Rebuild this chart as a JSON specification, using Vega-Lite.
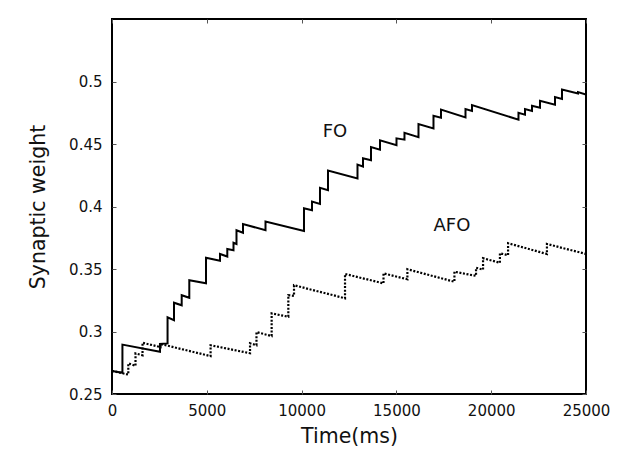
{
  "$schema": "https://vega.github.io/schema/vega-lite/v6.json",
  "width": 474,
  "height": 375,
  "autosize": "none",
  "padding": {"left": 112, "top": 19, "right": 37, "bottom": 74},
  "background": "white",
  "config": {
    "font": "DejaVu Sans",
    "view": {"stroke": "black", "strokeWidth": 2},
    "axis": {
      "grid": false,
      "domain": false,
      "tickSize": -4,
      "tickColor": "#555",
      "tickWidth": 1,
      "labelFlush": false,
      "labelFont": "DejaVu Sans",
      "labelFontSize": 15,
      "labelColor": "#111",
      "titleFont": "DejaVu Sans",
      "titleFontSize": 20.5,
      "titleFontWeight": "normal",
      "titleColor": "#111"
    }
  },
  "datasets": {
    "fo": [
      {"i": 0, "t": 0, "w": 0.2685},
      {"i": 1, "t": 550, "w": 0.267},
      {"i": 2, "t": 550, "w": 0.2895},
      {"i": 3, "t": 2530, "w": 0.2838},
      {"i": 4, "t": 2530, "w": 0.29},
      {"i": 5, "t": 2930, "w": 0.2905},
      {"i": 6, "t": 2930, "w": 0.3114},
      {"i": 7, "t": 3270, "w": 0.309},
      {"i": 8, "t": 3270, "w": 0.323},
      {"i": 9, "t": 3676, "w": 0.321},
      {"i": 10, "t": 3676, "w": 0.329},
      {"i": 11, "t": 4077, "w": 0.327},
      {"i": 12, "t": 4077, "w": 0.341},
      {"i": 13, "t": 4958, "w": 0.3386},
      {"i": 14, "t": 4958, "w": 0.359},
      {"i": 15, "t": 5696, "w": 0.3566},
      {"i": 16, "t": 5696, "w": 0.362},
      {"i": 17, "t": 6081, "w": 0.36},
      {"i": 18, "t": 6081, "w": 0.366},
      {"i": 19, "t": 6408, "w": 0.365},
      {"i": 20, "t": 6408, "w": 0.371},
      {"i": 21, "t": 6566, "w": 0.37},
      {"i": 22, "t": 6566, "w": 0.381},
      {"i": 23, "t": 6909, "w": 0.379},
      {"i": 24, "t": 6909, "w": 0.386},
      {"i": 25, "t": 8096, "w": 0.381},
      {"i": 26, "t": 8096, "w": 0.388},
      {"i": 27, "t": 10126, "w": 0.3804},
      {"i": 28, "t": 10126, "w": 0.3986},
      {"i": 29, "t": 10548, "w": 0.397},
      {"i": 30, "t": 10548, "w": 0.404},
      {"i": 31, "t": 10970, "w": 0.402},
      {"i": 32, "t": 10970, "w": 0.415},
      {"i": 33, "t": 11392, "w": 0.413},
      {"i": 34, "t": 11392, "w": 0.4287},
      {"i": 35, "t": 12948, "w": 0.4225},
      {"i": 36, "t": 12948, "w": 0.4335},
      {"i": 37, "t": 13238, "w": 0.432},
      {"i": 38, "t": 13238, "w": 0.4386},
      {"i": 39, "t": 13660, "w": 0.437},
      {"i": 40, "t": 13660, "w": 0.4475},
      {"i": 41, "t": 14134, "w": 0.4455},
      {"i": 42, "t": 14134, "w": 0.453},
      {"i": 43, "t": 15005, "w": 0.449},
      {"i": 44, "t": 15005, "w": 0.4545},
      {"i": 45, "t": 15426, "w": 0.4535},
      {"i": 46, "t": 15426, "w": 0.459},
      {"i": 47, "t": 16165, "w": 0.4555},
      {"i": 48, "t": 16165, "w": 0.466},
      {"i": 49, "t": 16956, "w": 0.4625},
      {"i": 50, "t": 16956, "w": 0.4725},
      {"i": 51, "t": 17351, "w": 0.471},
      {"i": 52, "t": 17351, "w": 0.4775},
      {"i": 53, "t": 18644, "w": 0.4713},
      {"i": 54, "t": 18644, "w": 0.478},
      {"i": 55, "t": 18986, "w": 0.4765},
      {"i": 56, "t": 18986, "w": 0.4812},
      {"i": 57, "t": 21439, "w": 0.4695},
      {"i": 58, "t": 21439, "w": 0.475},
      {"i": 59, "t": 21782, "w": 0.4735},
      {"i": 60, "t": 21782, "w": 0.478},
      {"i": 61, "t": 22151, "w": 0.4765},
      {"i": 62, "t": 22151, "w": 0.4805},
      {"i": 63, "t": 22573, "w": 0.479},
      {"i": 64, "t": 22573, "w": 0.4845},
      {"i": 65, "t": 23364, "w": 0.4815},
      {"i": 66, "t": 23364, "w": 0.4875},
      {"i": 67, "t": 23733, "w": 0.486},
      {"i": 68, "t": 23733, "w": 0.4935},
      {"i": 69, "t": 24577, "w": 0.4905},
      {"i": 70, "t": 24577, "w": 0.4915},
      {"i": 71, "t": 25000, "w": 0.4895}
    ],
    "afo": [
      {"i": 0, "t": 0, "w": 0.2685},
      {"i": 1, "t": 860, "w": 0.2655},
      {"i": 2, "t": 860, "w": 0.2745},
      {"i": 3, "t": 1240, "w": 0.2725},
      {"i": 4, "t": 1240, "w": 0.2825},
      {"i": 5, "t": 1610, "w": 0.281},
      {"i": 6, "t": 1610, "w": 0.291},
      {"i": 7, "t": 2560, "w": 0.2875},
      {"i": 8, "t": 2560, "w": 0.29},
      {"i": 9, "t": 5200, "w": 0.2803},
      {"i": 10, "t": 5200, "w": 0.289},
      {"i": 11, "t": 7280, "w": 0.2826},
      {"i": 12, "t": 7280, "w": 0.2906},
      {"i": 13, "t": 7620, "w": 0.289},
      {"i": 14, "t": 7620, "w": 0.2995},
      {"i": 15, "t": 8420, "w": 0.2964},
      {"i": 16, "t": 8420, "w": 0.3145},
      {"i": 17, "t": 9300, "w": 0.3118},
      {"i": 18, "t": 9300, "w": 0.329},
      {"i": 19, "t": 9600, "w": 0.3285},
      {"i": 20, "t": 9600, "w": 0.337},
      {"i": 21, "t": 12290, "w": 0.3266},
      {"i": 22, "t": 12290, "w": 0.346},
      {"i": 23, "t": 14320, "w": 0.3385},
      {"i": 24, "t": 14320, "w": 0.3465},
      {"i": 25, "t": 15580, "w": 0.3418},
      {"i": 26, "t": 15580, "w": 0.3498},
      {"i": 27, "t": 18060, "w": 0.3398},
      {"i": 28, "t": 18060, "w": 0.3478},
      {"i": 29, "t": 19200, "w": 0.3445},
      {"i": 30, "t": 19200, "w": 0.351},
      {"i": 31, "t": 19570, "w": 0.3495},
      {"i": 32, "t": 19570, "w": 0.3586},
      {"i": 33, "t": 20460, "w": 0.355},
      {"i": 34, "t": 20460, "w": 0.3626},
      {"i": 35, "t": 20890, "w": 0.361},
      {"i": 36, "t": 20890, "w": 0.3706},
      {"i": 37, "t": 22940, "w": 0.362},
      {"i": 38, "t": 22940, "w": 0.37},
      {"i": 39, "t": 25000, "w": 0.362}
    ],
    "labels": [
      {"label": "FO", "t": 11760, "w": 0.4598},
      {"label": "AFO", "t": 17930, "w": 0.3848}
    ]
  },
  "resolve": {"axis": {"x": "independent", "y": "independent"}},
  "layer": [
    {
      "data": {"name": "fo"},
      "mark": {"type": "line", "color": "black", "strokeWidth": 2, "strokeJoin": "miter", "clip": true},
      "encoding": {
        "x": {
          "field": "t", "type": "quantitative",
          "scale": {"domain": [0, 25000], "nice": false},
          "axis": {"orient": "bottom", "values": [0, 5000, 10000, 15000, 20000, 25000], "format": "d", "title": "Time(ms)", "labelPadding": 13, "titlePadding": 8}
        },
        "y": {
          "field": "w", "type": "quantitative",
          "scale": {"domain": [0.25, 0.55], "nice": false, "zero": false},
          "axis": {"orient": "left", "values": [0.25, 0.3, 0.35, 0.4, 0.45, 0.5], "format": "~g", "title": "Synaptic weight", "labelPadding": 14, "titlePadding": 20}
        },
        "order": {"field": "i", "type": "quantitative"}
      }
    },
    {
      "data": {"name": "afo"},
      "mark": {"type": "line", "color": "black", "strokeWidth": 2.2, "strokeDash": [2, 1.6], "strokeJoin": "miter", "clip": true},
      "encoding": {
        "x": {
          "field": "t", "type": "quantitative",
          "axis": {"orient": "top", "values": [0, 5000, 10000, 15000, 20000, 25000], "labels": false, "title": null}
        },
        "y": {
          "field": "w", "type": "quantitative",
          "axis": {"orient": "right", "values": [0.25, 0.3, 0.35, 0.4, 0.45, 0.5], "labels": false, "title": null}
        },
        "order": {"field": "i", "type": "quantitative"}
      }
    },
    {
      "data": {"name": "labels"},
      "mark": {"type": "text", "font": "DejaVu Sans", "fontSize": 18, "color": "#111", "align": "center", "baseline": "middle"},
      "encoding": {
        "x": {"field": "t", "type": "quantitative", "axis": null},
        "y": {"field": "w", "type": "quantitative", "axis": null},
        "text": {"field": "label", "type": "nominal"}
      }
    }
  ]
}
